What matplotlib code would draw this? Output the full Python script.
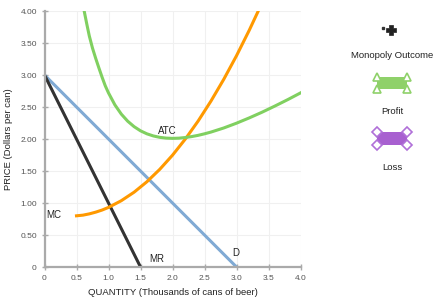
import numpy as np
import matplotlib
matplotlib.use('Agg')
import matplotlib.pyplot as plt
from matplotlib.patches import Rectangle

plt.rcParams['font.family'] = ['Liberation Sans', 'DejaVu Sans']

# Demand and marginal revenue
d_q = [0.0, 3.0]
d_p = [3.0, 0.0]
mr_q = [0.0, 1.5]
mr_p = [3.0, 0.0]

# Marginal cost
mc_q = [0.5, 0.6, 0.7, 0.8, 0.9, 1.0, 1.2, 1.4, 1.6, 1.8, 2.0, 2.2, 2.4,
        2.6, 2.8, 3.0, 3.2, 3.34]
mc_p = [0.80, 0.81, 0.83, 0.857, 0.89, 0.931, 1.036, 1.169, 1.332, 1.525,
        1.747, 1.999, 2.28, 2.591, 2.931, 3.301, 3.701, 4.0]

# Average total cost
atc_q = [0.62, 0.66, 0.70, 0.75, 0.80, 0.85, 0.90, 0.95, 1.0, 1.1, 1.2, 1.3,
         1.4, 1.5, 1.6, 1.7, 1.8, 1.9, 2.0, 2.1, 2.2, 2.3, 2.4, 2.5, 2.6,
         2.8, 3.0, 3.2, 3.4, 3.6, 3.8, 4.0]
atc_p = [4.00, 3.80, 3.61, 3.42, 3.26, 3.11, 2.965, 2.83, 2.72, 2.533, 2.389,
         2.278, 2.193, 2.128, 2.081, 2.048, 2.026, 2.014, 2.01, 2.013, 2.023,
         2.038, 2.057, 2.081, 2.108, 2.172, 2.247, 2.33, 2.419, 2.515, 2.615,
         2.72]

x_ticks = [0, 0.5, 1.0, 1.5, 2.0, 2.5, 3.0, 3.5, 4.0]
x_labels = ['0', '0.5', '1.0', '1.5', '2.0', '2.5', '3.0', '3.5', '4.0']
y_ticks = [0, 0.5, 1.0, 1.5, 2.0, 2.5, 3.0, 3.5, 4.0]
y_labels = ['0', '0.50', '1.00', '1.50', '2.00', '2.50', '3.00', '3.50', '4.00']

fig = plt.figure(figsize=(4.37, 3.04), dpi=100)
ax = fig.add_axes([44.5 / 437, 1 - 267 / 304, 256 / 437, 256 / 304])

ax.plot(d_q, d_p, color='#80aad4', lw=2.2, solid_capstyle='butt')
ax.plot(mr_q, mr_p, color='#333333', lw=2.2, solid_capstyle='butt')
ax.plot(mc_q, mc_p, color='#ff9900', lw=2.2)
ax.plot(atc_q, atc_p, color='#80d060', lw=2.2)

lab = dict(fontsize=7, color='#222222')
ax.text(1.77, 2.12, 'ATC', va='center', ha='left', **lab)
ax.text(0.03, 0.81, 'MC', va='center', ha='left', **lab)
ax.text(1.63, 0.13, 'MR', va='center', ha='left', **lab)
ax.text(2.93, 0.22, 'D', va='center', ha='left', **lab)

ax.set_xlim(0, 4.0)
ax.set_ylim(0, 4.0)
ax.set_xticks(x_ticks)
ax.set_xticklabels(x_labels)
ax.set_yticks(y_ticks)
ax.set_yticklabels(y_labels)
ax.tick_params(labelsize=6, labelcolor='#555555', color='#aaaaaa',
               direction='inout', length=4, width=1)
ax.tick_params(axis='x', pad=4)
ax.grid(True, color='#f0f0f0', lw=0.8)
ax.set_axisbelow(True)
for s in ['top', 'right']:
    ax.spines[s].set_visible(False)
for s in ['left', 'bottom']:
    ax.spines[s].set_color('#aaaaaa')
    ax.spines[s].set_linewidth(1.6)
ax.set_xlabel('QUANTITY (Thousands of cans of beer)', fontsize=6.8,
              color='#222222', labelpad=4)
ax.set_ylabel('PRICE (Dollars per can)', fontsize=6.8, color='#222222',
              labelpad=5)

# Legend panel on the right (pixel coordinates)
lg = fig.add_axes([0, 0, 1, 1])
lg.set_xlim(0, 437)
lg.set_ylim(304, 0)
lg.axis('off')
lg.patch.set_alpha(0)

lg.plot([383], [28], 's', color='#333333', ms=1.8)
lg.plot([391], [29.5], 'P', color='#222222', ms=7, mec='#222222', mew=0.5)
lg.text(392, 55, 'Monopoly Outcome', ha='center', va='center', fontsize=6.8,
        color='#222222')

lg.add_patch(Rectangle((377, 77), 30, 12, color='#8fd16a', lw=0))
lg.plot([377, 407, 377, 407], [77, 77, 89, 89], '^', ms=6, mfc='white',
        mec='#8fd16a', mew=1.2, ls='none')
lg.text(392, 111, 'Profit', ha='center', va='center', fontsize=6.8,
        color='#222222')

lg.add_patch(Rectangle((377, 132), 30, 13, color='#a860d0', lw=0))
lg.plot([377, 407, 377, 407], [132, 132, 145, 145], 'D', ms=5.5, mfc='white',
        mec='#b070d8', mew=1.2, ls='none')
lg.text(392, 167, 'Loss', ha='center', va='center', fontsize=6.8,
        color='#222222')

fig.savefig('out.png', dpi=100)
